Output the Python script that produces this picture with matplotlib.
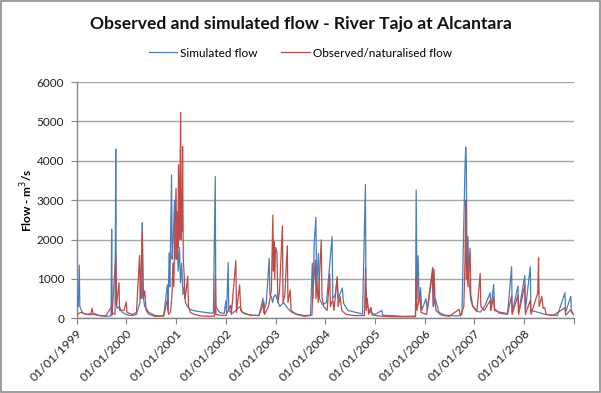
import matplotlib
matplotlib.use("Agg")
import matplotlib.pyplot as plt
import pandas as pd
from matplotlib.patches import Rectangle

# ---------------- data ----------------
sim_dates = [
    "1999-01-01", "1999-01-08", "1999-01-12", "1999-01-20", "1999-01-24", "1999-02-05", "1999-02-20",
    "1999-03-15", "1999-04-20", "1999-05-10", "1999-06-15", "1999-08-01", "1999-09-10", "1999-09-15",
    "1999-09-19", "1999-10-10", "1999-10-15", "1999-10-19", "1999-10-25", "1999-11-10", "1999-12-01",
    "1999-12-31", "2000-01-15", "2000-02-15", "2000-03-15", "2000-04-10", "2000-04-15", "2000-04-22",
    "2000-04-27", "2000-05-01", "2000-05-15", "2000-06-15", "2000-08-01", "2000-10-01", "2000-10-28",
    "2000-11-02", "2000-11-10", "2000-11-15", "2000-11-28", "2000-12-02", "2000-12-10", "2000-12-20",
    "2000-12-25", "2001-01-01", "2001-01-08", "2001-01-15", "2001-01-25", "2001-02-01", "2001-02-10",
    "2001-02-20", "2001-03-01", "2001-03-10", "2001-03-25", "2001-04-15", "2001-06-01", "2001-08-01",
    "2001-10-01", "2001-10-15", "2001-10-19", "2001-11-15", "2001-12-20", "2002-01-01", "2002-01-06",
    "2002-01-18", "2002-01-22", "2002-02-15", "2002-03-15", "2002-04-15", "2002-05-01", "2002-07-01",
    "2002-09-01", "2002-10-01", "2002-10-05", "2002-10-25", "2002-11-15", "2002-11-20", "2002-12-01",
    "2002-12-10", "2002-12-20", "2003-01-01", "2003-01-15", "2003-02-01", "2003-03-01", "2003-04-01",
    "2003-05-01", "2003-06-15", "2003-08-01", "2003-09-15", "2003-09-28", "2003-10-03", "2003-10-12",
    "2003-10-24", "2003-10-30", "2003-11-12", "2003-11-20", "2003-12-10", "2004-01-10", "2004-02-20",
    "2004-02-25", "2004-03-15", "2004-03-28", "2004-04-05", "2004-05-05", "2004-05-15", "2004-06-15",
    "2004-08-01", "2004-10-01", "2004-10-22", "2004-10-26", "2004-11-05", "2004-12-01", "2005-01-01",
    "2005-02-20", "2005-02-25", "2005-05-01", "2005-08-01", "2005-10-25", "2005-10-30", "2005-11-05",
    "2005-11-13", "2005-11-20", "2005-12-01", "2005-12-10", "2006-01-10", "2006-01-20", "2006-02-25",
    "2006-03-05", "2006-03-20", "2006-04-15", "2006-06-01", "2006-09-01", "2006-10-01", "2006-10-24",
    "2006-10-29", "2006-11-02", "2006-11-08", "2006-11-14", "2006-11-22", "2006-12-05", "2006-12-20",
    "2007-01-15", "2007-02-15", "2007-03-20", "2007-04-27", "2007-05-01", "2007-05-22", "2007-05-28",
    "2007-07-01", "2007-09-01", "2007-10-01", "2007-10-05", "2007-11-17", "2007-11-21", "2008-01-06",
    "2008-01-10", "2008-02-15", "2008-02-20", "2008-04-15", "2008-06-01", "2008-09-01", "2008-10-27",
    "2008-10-31", "2008-12-09", "2008-12-13", "2008-12-31",
]
sim_values = [
    450, 550, 300, 1350, 300, 200, 120,
    100, 90, 120, 70, 50, 60, 2260,
    150, 100, 4300, 400, 250, 300, 150,
    100, 80, 70, 100, 400, 900, 500,
    2430, 600, 300, 150, 70, 60, 850,
    200, 1660, 800, 3640, 1500, 2000, 3000,
    1500, 2200, 2500, 1200, 1800, 900, 1400,
    600, 800, 400, 300, 220, 180, 150,
    130, 3600, 300, 150, 120, 440, 150,
    1415, 200, 120, 200, 300, 150, 80,
    70, 510, 150, 400, 1525, 600, 550,
    400, 550, 600, 450, 300, 400, 250,
    150, 100, 70, 80, 1400, 500, 1910,
    2560, 800, 1650, 500, 350, 400, 2075,
    500, 600, 1020, 500, 770, 380, 200,
    160, 110, 3400, 800, 300, 150, 100,
    200, 80, 70, 50, 60, 3260, 500,
    1590, 400, 780, 200, 500, 200, 1110,
    300, 500, 150, 80, 60, 100, 3900,
    4345, 4000, 1200, 2075, 960, 460, 300,
    180, 160, 330, 650, 200, 860, 250,
    130, 100, 1310, 150, 820, 150, 1085,
    200, 1310, 200, 150, 100, 70, 650,
    150, 560, 150, 100,
]

obs_dates = [
    "1999-01-01", "1999-02-01", "1999-03-15", "1999-04-15", "1999-04-25", "1999-05-01", "1999-06-01",
    "1999-08-01", "1999-09-15", "1999-09-18", "1999-10-15", "1999-10-20", "1999-11-08", "1999-11-12",
    "1999-12-15", "1999-12-31", "2000-01-05", "2000-02-15", "2000-03-15", "2000-04-07", "2000-04-12",
    "2000-04-27", "2000-05-05", "2000-05-15", "2000-05-25", "2000-06-15", "2000-08-01", "2000-10-01",
    "2000-10-28", "2000-11-05", "2000-11-20", "2000-12-01", "2000-12-08", "2000-12-14", "2000-12-22",
    "2000-12-31", "2001-01-05", "2001-01-10", "2001-01-14", "2001-01-18", "2001-01-24", "2001-01-28",
    "2001-02-03", "2001-02-06", "2001-02-09", "2001-02-13", "2001-02-17", "2001-02-22", "2001-03-01",
    "2001-03-05", "2001-03-15", "2001-03-27", "2001-04-01", "2001-04-15", "2001-05-15", "2001-07-01",
    "2001-09-01", "2001-10-10", "2001-10-16", "2001-10-20", "2001-11-15", "2002-01-01", "2002-02-05",
    "2002-02-10", "2002-03-15", "2002-03-20", "2002-04-12", "2002-04-20", "2002-05-15", "2002-07-01",
    "2002-09-01", "2002-10-08", "2002-10-12", "2002-11-10", "2002-12-01", "2002-12-12", "2002-12-16",
    "2002-12-20", "2002-12-26", "2003-01-01", "2003-01-11", "2003-01-18", "2003-01-30", "2003-02-20",
    "2003-02-25", "2003-03-10", "2003-03-28", "2003-04-02", "2003-04-18", "2003-04-25", "2003-06-01",
    "2003-08-01", "2003-09-25", "2003-10-01", "2003-10-20", "2003-10-25", "2003-11-01", "2003-11-10",
    "2003-12-03", "2003-12-08", "2003-12-20", "2004-01-15", "2004-02-03", "2004-02-08", "2004-02-25",
    "2004-03-05", "2004-03-29", "2004-04-05", "2004-04-20", "2004-05-01", "2004-06-01", "2004-08-01",
    "2004-10-15", "2004-10-23", "2004-10-28", "2004-11-05", "2004-11-15", "2004-12-02", "2004-12-10",
    "2005-03-01", "2005-06-01", "2005-10-25", "2005-10-30", "2005-11-05", "2005-11-25", "2005-12-05",
    "2006-01-15", "2006-02-28", "2006-03-05", "2006-03-10", "2006-03-18", "2006-03-25", "2006-05-01",
    "2006-07-01", "2006-09-10", "2006-09-20", "2006-10-15", "2006-10-24", "2006-10-29", "2006-11-03",
    "2006-11-08", "2006-11-14", "2006-11-30", "2006-12-05", "2006-12-20", "2007-01-20", "2007-02-12",
    "2007-02-17", "2007-03-15", "2007-04-27", "2007-05-01", "2007-05-22", "2007-05-28", "2007-07-01",
    "2007-09-01", "2007-10-01", "2007-10-05", "2007-11-17", "2007-11-21", "2008-01-06", "2008-01-10",
    "2008-02-15", "2008-02-20", "2008-04-10", "2008-04-16", "2008-04-20", "2008-05-10", "2008-05-20",
    "2008-06-01", "2008-06-10", "2008-08-01", "2008-10-27", "2008-11-01", "2008-12-10", "2008-12-31",
]
obs_values = [
    100, 150, 100, 120, 260, 100, 80,
    60, 300, 80, 1610, 300, 905, 200,
    200, 420, 150, 100, 150, 1600, 500,
    2200, 500, 700, 200, 100, 50, 60,
    470, 100, 150, 600, 1400, 800, 2200,
    3300, 1500, 2700, 1800, 3900, 2000, 3200,
    5230, 2000, 3250, 2200, 4360, 1500, 1060,
    500, 700, 1070, 300, 150, 100, 60,
    50, 60, 1100, 100, 80, 70, 330,
    100, 1465, 150, 850, 200, 120, 80,
    70, 420, 100, 300, 700, 2625, 1200,
    1950, 1000, 1800, 1675, 400, 700, 2345,
    400, 600, 1845, 400, 720, 200, 100,
    50, 80, 600, 1470, 500, 930, 400,
    1990, 550, 300, 200, 1125, 300, 470,
    200, 1060, 300, 550, 200, 100, 70,
    70, 1270, 200, 500, 100, 280, 80,
    50, 40, 40, 1060, 200, 600, 150,
    100, 1290, 300, 1240, 400, 200, 80,
    50, 230, 60, 300, 1530, 3000, 1000,
    1500, 800, 1780, 600, 300, 200, 1140,
    300, 200, 460, 200, 550, 200, 160,
    120, 570, 100, 590, 100, 845, 100,
    460, 100, 640, 1540, 300, 560, 250,
    270, 100, 70, 270, 80, 220, 80,
]

year_ticks = ["1999-01-01", "2000-01-01", "2001-01-01", "2002-01-01", "2003-01-01",
              "2004-01-01", "2005-01-01", "2006-01-01", "2007-01-01", "2008-01-01", "2009-01-01"]
y_ticks = [0, 1000, 2000, 3000, 4000, 5000, 6000]

title = "Observed and simulated flow - River Tajo at Alcantara"
sim_label = "Simulated flow"
obs_label = "Observed/naturalised flow"
y_label = "Flow - m$^3$/s"

# ---------------- drawing ----------------
plt.rcParams['font.family'] = ['Lato', 'DejaVu Sans']

fig = plt.figure(figsize=(6.01, 3.93), dpi=100)
fig.patch.set_facecolor("white")
fig.patches.append(Rectangle((0.0015, 0.002), 0.997, 0.995, transform=fig.transFigure,
                             fill=False, edgecolor="#8c8c8c", linewidth=1.2))

ax = fig.add_axes([0.1276, 0.190, 0.8274, 0.6013])

sd = pd.to_datetime(sim_dates)
od = pd.to_datetime(obs_dates)
l1, = ax.plot(sd, sim_values, color="#4A7EBB", lw=0.9, label=sim_label, zorder=3)
l2, = ax.plot(od, obs_values, color="#BE4B48", lw=0.9, label=obs_label, zorder=4)

xt = pd.to_datetime(year_ticks)
ax.set_xlim(xt[0], xt[-1])
ax.set_ylim(0, 6000)
ax.set_yticks(y_ticks)
ax.set_yticklabels([str(v) for v in y_ticks], fontsize=8.5, color="#222222")
ax.set_xticks(xt)
ax.set_xticklabels([d.strftime("%d/%m/%Y") for d in xt[:-1]] + [""], rotation=45,
                   ha="right", va="top", rotation_mode="anchor", fontsize=8.8, color="#222222")
ax.tick_params(axis="x", length=4, color="#868686", pad=3)
ax.tick_params(axis="y", length=4, color="#868686", pad=5)

ax.grid(axis="y", color="#A6A6A6", lw=1.0, zorder=0)
ax.set_axisbelow(True)
for s in ["top", "right"]:
    ax.spines[s].set_visible(False)
for s in ["left", "bottom"]:
    ax.spines[s].set_color("#868686")
    ax.spines[s].set_linewidth(1.0)

ax.set_ylabel(y_label, fontsize=8.5, fontweight="bold", labelpad=1)

fig.text(0.5, 0.938, title, ha="center", va="center", fontsize=12.6, fontweight="bold", color="#111111")
fig.legend(handles=[l1, l2], loc="center", bbox_to_anchor=(0.50, 0.865), ncol=2, frameon=False,
           fontsize=8.5, handlelength=2.4, columnspacing=2.0, handletextpad=0.3)

fig.savefig("out.png", dpi=100, facecolor="white")
